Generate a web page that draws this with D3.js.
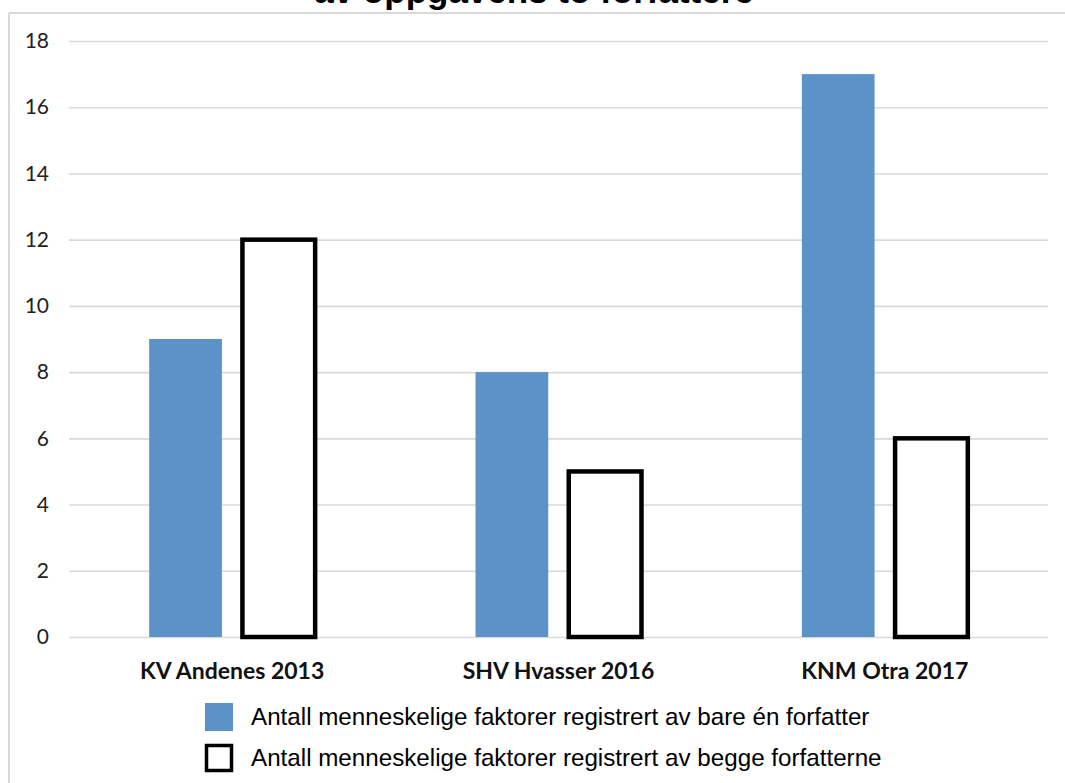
<!DOCTYPE html>
<html>
<head>
<meta charset="utf-8">
<script src="https://cdn.jsdelivr.net/npm/d3@7"></script>
<style>
  html, body { margin: 0; padding: 0; background: #fff; }
  svg { display: block; }
</style>
</head>
<body>
<svg id="chart" width="1065" height="783"></svg>
<script>
// Skip categories and the two counted series
const categories = ["KV Andenes 2013", "SHV Hvasser 2016", "KNM Otra 2017"];
const seriesNames = [
  "Antall menneskelige faktorer registrert av bare én forfatter",
  "Antall menneskelige faktorer registrert av begge forfatterne"
];
const oneAuthor = [9, 8, 17];
const bothAuthors = [12, 5, 6];
const yTicks = [0, 2, 4, 6, 8, 10, 12, 14, 16, 18];
const titleText = "av oppgavens to forfattere";

const svg = d3.select("#chart");
const W = 1065, H = 783;
const plot = { left: 69, right: 1048, top: 41, bottom: 637 };
const blue = "#5B93C8";

// Frame around the chart (left and top edges)
svg.append("line").attr("x1", 9).attr("x2", W).attr("y1", 13).attr("y2", 13)
  .attr("stroke", "#d9d9d9").attr("stroke-width", 2);
svg.append("line").attr("x1", 9).attr("x2", 9).attr("y1", 13).attr("y2", H)
  .attr("stroke", "#d9d9d9").attr("stroke-width", 2);

// Title (second line of a two-line heading, running off the top edge)
svg.append("text")
  .attr("x", 534).attr("y", 3)
  .attr("text-anchor", "middle")
  .attr("font-family", "'Liberation Sans', Arial, sans-serif")
  .attr("font-weight", "bold")
  .attr("font-size", 35)
  .attr("fill", "#000")
  .text(titleText);

const y = d3.scaleLinear().domain([0, 18]).range([plot.bottom, plot.top]);
const x0 = d3.scaleBand().domain(categories).range([plot.left, plot.right]).padding(0);
const x1 = d3.scaleBand().domain(seriesNames).range([0, x0.bandwidth()])
  .paddingInner(0.22).paddingOuter(0.86);

// Gridlines and y tick labels
const yAxis = d3.axisLeft(y).tickValues(yTicks)
  .tickSize(-(plot.right - plot.left)).tickPadding(20).tickFormat(d3.format("d"));
const gy = svg.append("g").attr("transform", `translate(${plot.left},0)`).call(yAxis);
gy.select(".domain").remove();
gy.selectAll(".tick line").attr("stroke", "#d9d9d9").attr("stroke-width", 1.6);
gy.selectAll(".tick text")
  .attr("font-family", "Lato, 'Open Sans', sans-serif")
  .attr("font-size", 21)
  .attr("fill", "#222");

// Bars
const rows = categories.map((c, i) => ({ cat: c, values: [oneAuthor[i], bothAuthors[i]] }));
const groups = svg.append("g").selectAll("g").data(rows).join("g")
  .attr("transform", d => `translate(${x0(d.cat)},0)`);

groups.selectAll("rect")
  .data(d => d.values.map((v, j) => ({ key: seriesNames[j], v, j })))
  .join("rect")
  .attr("x", d => x1(d.key))
  .attr("width", x1.bandwidth())
  .attr("y", d => y(d.v))
  .attr("height", d => y(0) - y(d.v))
  .attr("fill", d => d.j === 0 ? blue : "#fff")
  .attr("stroke", d => d.j === 0 ? "none" : "#000")
  .attr("stroke-width", d => d.j === 0 ? 0 : 4.5);

// Category labels
const xAxis = d3.axisBottom(x0).tickSize(0).tickPadding(0);
const gx = svg.append("g").attr("transform", `translate(0,${plot.bottom})`).call(xAxis);
gx.select(".domain").remove();
gx.selectAll(".tick text")
  .attr("y", 42)
  .attr("dy", 0)
  .attr("font-family", "Lato, 'Open Sans', sans-serif")
  .attr("font-weight", "bold")
  .attr("font-size", 23)
  .attr("fill", "#111");

// Legend
const legend = svg.append("g");
seriesNames.forEach((name, i) => {
  const ly = 703 + i * 41;
  legend.append("rect")
    .attr("x", i === 0 ? 205 : 206.5).attr("y", i === 0 ? ly : ly + 1.5)
    .attr("width", i === 0 ? 28 : 25).attr("height", i === 0 ? 28 : 25)
    .attr("fill", i === 0 ? blue : "#fff")
    .attr("stroke", i === 0 ? "none" : "#000")
    .attr("stroke-width", i === 0 ? 0 : 3.5);
  legend.append("text")
    .attr("x", 251).attr("y", ly + 22)
    .attr("font-family", "'Liberation Sans', Arial, sans-serif")
    .attr("font-size", 24.2)
    .attr("fill", "#000")
    .text(name);
});
</script>
</body>
</html>
